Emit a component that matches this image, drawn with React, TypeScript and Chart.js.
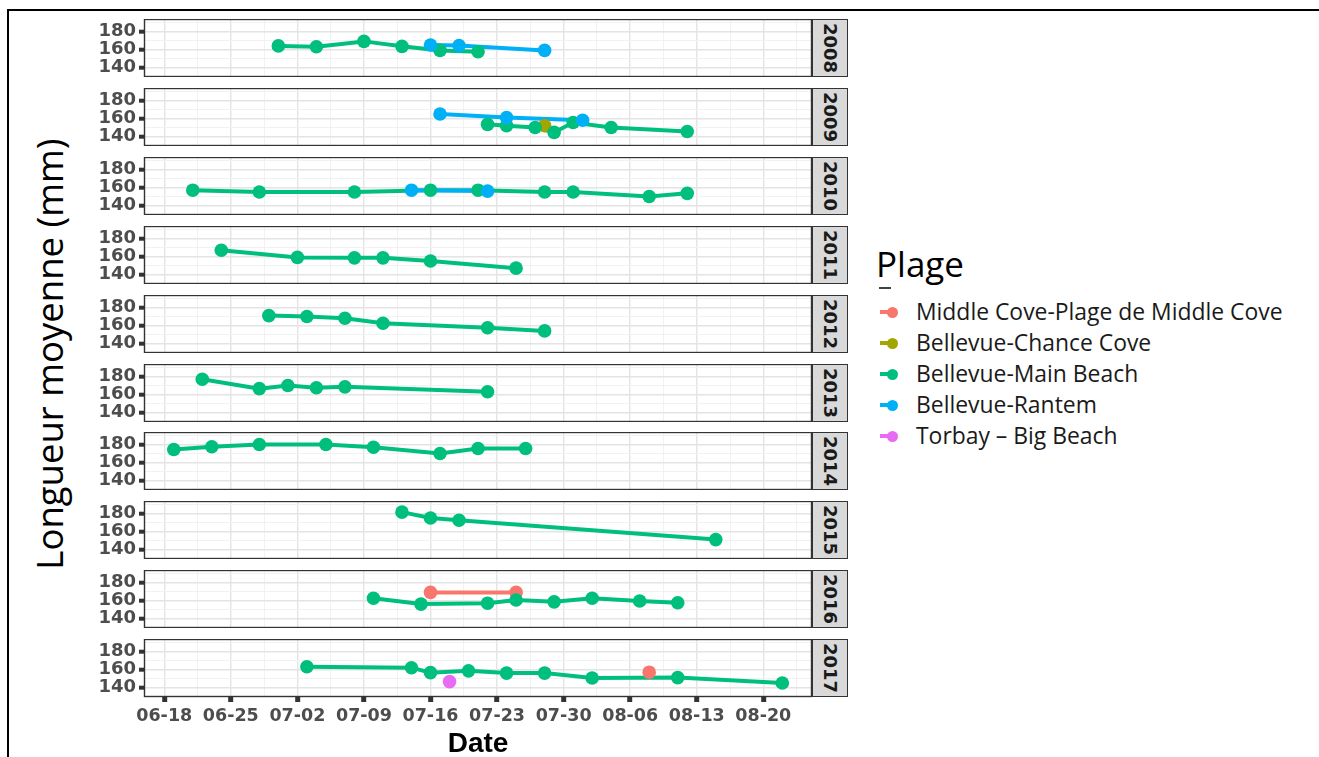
import React, { useEffect, useRef } from 'react';
import { Chart, registerables } from 'chart.js';

Chart.register(...registerables);

// ---------- data ----------
const years = ['2008', '2009', '2010', '2011', '2012', '2013', '2014', '2015', '2016', '2017'];
const beaches = [
  'Middle Cove-Plage de Middle Cove',
  'Bellevue-Chance Cove',
  'Bellevue-Main Beach',
  'Bellevue-Rantem',
  'Torbay – Big Beach',
];
const beachColors = ['#F8766D', '#A3A500', '#00BF7D', '#00B0F6', '#E76BF3'];

const xTickLabels = ['06-18', '06-25', '07-02', '07-09', '07-16', '07-23', '07-30', '08-06', '08-13', '08-20'];
const xMinorDays = [3.5, 10.5, 17.5, 24.5, 31.5, 38.5, 45.5, 52.5, 59.5, 66.5];
const yTickValues = [140, 160, 180];
const yTickLabels = ['140', '160', '180'];
const yMinorValues = [130, 150, 170, 190];

// 2008
const main2008Dates = ['06-30', '07-04', '07-09', '07-13', '07-17', '07-21'];
const main2008Len = [164, 163, 169, 163.5, 159, 157.5];
const rantem2008Dates = ['07-16', '07-19', '07-28'];
const rantem2008Len = [165, 164.5, 159];
// 2009
const rantem2009Dates = ['07-17', '07-24', '08-01'];
const rantem2009Len = [165, 161, 158];
const main2009Dates = ['07-22', '07-24', '07-27', '07-29', '07-31', '08-04', '08-12'];
const main2009Len = [153.5, 152, 150, 144.5, 155.5, 150, 145.5];
const chance2009Dates = ['07-28'];
const chance2009Len = [152];
// 2010
const main2010Dates = ['06-21', '06-28', '07-08', '07-16', '07-21', '07-28', '07-31', '08-08', '08-12'];
const main2010Len = [157, 155, 155, 157, 157, 155, 155, 150, 153.5];
const rantem2010Dates = ['07-14', '07-22'];
const rantem2010Len = [157, 156];
// 2011
const main2011Dates = ['06-24', '07-02', '07-08', '07-11', '07-16', '07-25'];
const main2011Len = [167, 159, 158.5, 158.5, 155, 147];
// 2012
const main2012Dates = ['06-29', '07-03', '07-07', '07-11', '07-22', '07-28'];
const main2012Len = [171, 170, 168, 162.5, 157.5, 154];
// 2013
const main2013Dates = ['06-22', '06-28', '07-01', '07-04', '07-07', '07-22'];
const main2013Len = [177, 166.5, 170, 167.5, 168.5, 163];
// 2014
const main2014Dates = ['06-19', '06-23', '06-28', '07-05', '07-10', '07-17', '07-21', '07-26'];
const main2014Len = [174.5, 177.5, 180, 180, 177, 170, 175.5, 175.5];
// 2015
const main2015Dates = ['07-13', '07-16', '07-19', '08-15'];
const main2015Len = [181.5, 175, 172.5, 151];
// 2016
const main2016Dates = ['07-10', '07-15', '07-22', '07-25', '07-29', '08-02', '08-07', '08-11'];
const main2016Len = [162.5, 156, 157, 160.5, 158.5, 162.5, 159.5, 157.5];
const middle2016Dates = ['07-16', '07-25'];
const middle2016Len = [169, 169];
// 2017
const main2017Dates = ['07-03', '07-14', '07-16', '07-20', '07-24', '07-28', '08-02', '08-11', '08-22'];
const main2017Len = [163, 162, 156.5, 158.5, 156, 156, 150.5, 151, 145];
const middle2017Dates = ['08-08'];
const middle2017Len = [157];
const torbay2017Dates = ['07-18'];
const torbay2017Len = [146.5];

type Series = { year: string; beach: number; dates: string[]; values: number[] };
const series: Series[] = [
  { year: '2008', beach: 2, dates: main2008Dates, values: main2008Len },
  { year: '2008', beach: 3, dates: rantem2008Dates, values: rantem2008Len },
  { year: '2009', beach: 1, dates: chance2009Dates, values: chance2009Len },
  { year: '2009', beach: 2, dates: main2009Dates, values: main2009Len },
  { year: '2009', beach: 3, dates: rantem2009Dates, values: rantem2009Len },
  { year: '2010', beach: 2, dates: main2010Dates, values: main2010Len },
  { year: '2010', beach: 3, dates: rantem2010Dates, values: rantem2010Len },
  { year: '2011', beach: 2, dates: main2011Dates, values: main2011Len },
  { year: '2012', beach: 2, dates: main2012Dates, values: main2012Len },
  { year: '2013', beach: 2, dates: main2013Dates, values: main2013Len },
  { year: '2014', beach: 2, dates: main2014Dates, values: main2014Len },
  { year: '2015', beach: 2, dates: main2015Dates, values: main2015Len },
  { year: '2016', beach: 0, dates: middle2016Dates, values: middle2016Len },
  { year: '2016', beach: 2, dates: main2016Dates, values: main2016Len },
  { year: '2017', beach: 0, dates: middle2017Dates, values: middle2017Len },
  { year: '2017', beach: 2, dates: main2017Dates, values: main2017Len },
  { year: '2017', beach: 4, dates: torbay2017Dates, values: torbay2017Len },
];

// ---------- helpers ----------
const dayOf = (md: string) => {
  const [m, d] = md.split('-').map(Number);
  return (Date.UTC(2000, m - 1, d) - Date.UTC(2000, 5, 18)) / 86400000;
};
const xMajorDays = xTickLabels.map(dayOf);

// ---------- layout ----------
const PANEL_LEFT = 88;
const CANVAS_W = 724; // ends at x=812
const Y_AXIS_W = 56; // plot starts at x=144
const PANEL_H = 58;
const panelTops = [19, 88, 157, 226, 295, 364, 432, 501, 570, 639];
const X_AXIS_H = 60;
const X_MIN = -2.13;
const X_MAX = 68.12;
const Y_MIN = 129.4;
const Y_MAX = 193.9;

const borderPlugin = {
  id: 'panelBorder',
  afterDraw(chart: any) {
    const { ctx, chartArea: a } = chart;
    ctx.save();
    ctx.strokeStyle = '#333333';
    ctx.lineWidth = 1.4;
    ctx.strokeRect(a.left + 0.5, a.top + 0.5, a.right - a.left - 1, a.bottom - a.top - 1);
    ctx.restore();
  },
};

function Panel({ yearIndex }: { yearIndex: number }) {
  const ref = useRef<HTMLCanvasElement | null>(null);
  const isBottom = yearIndex === years.length - 1;
  const year = years[yearIndex];
  const h = PANEL_H + (isBottom ? X_AXIS_H : 0);

  useEffect(() => {
    if (!ref.current) return;
    const datasets: any[] = [];
    beaches.forEach((b, bi) => {
      series
        .filter((s) => s.year === year && s.beach === bi)
        .forEach((s) => {
          const pts = s.dates
            .map((d, i) => ({ x: dayOf(d), y: s.values[i] }))
            .sort((p, q) => p.x - q.x);
          datasets.push({
            label: b + ' line',
            data: pts,
            borderColor: beachColors[bi],
            backgroundColor: beachColors[bi],
            borderWidth: 4,
            pointRadius: 0,
            showLine: true,
            tension: 0,
            order: 20 - bi,
          });
          datasets.push({
            label: b,
            data: pts,
            showLine: false,
            pointRadius: 6.8,
            pointBorderWidth: 0,
            pointBackgroundColor: beachColors[bi],
            pointBorderColor: beachColors[bi],
            order: 10 - bi,
          });
        });
    });

    const isMajorX = (v: number) => xMajorDays.some((d) => Math.abs(d - v) < 1e-6);
    const isMajorY = (v: number) => yTickValues.includes(v);

    const chart = new Chart(ref.current, {
      type: 'line',
      data: { datasets },
      plugins: [borderPlugin],
      options: {
        animation: false,
        responsive: false,
        devicePixelRatio: 1,
        events: [],
        layout: { padding: 0, autoPadding: false },
        plugins: { legend: { display: false }, tooltip: { enabled: false } },
        scales: {
          x: {
            type: 'linear',
            min: X_MIN,
            max: X_MAX,
            afterBuildTicks: (s: any) => {
              s.ticks = [...xMajorDays, ...xMinorDays].sort((a, b) => a - b).map((v) => ({ value: v }));
            },
            ticks: {
              display: isBottom,
              autoSkip: false,
              maxRotation: 0,
              minRotation: 0,
              padding: 4,
              color: '#4D4D4D',
              font: { family: 'DejaVu Sans', weight: 'bold', size: 17.5 },
              callback: (v: any) => {
                const i = xMajorDays.findIndex((d) => Math.abs(d - Number(v)) < 1e-6);
                return i >= 0 ? xTickLabels[i] : '';
              },
            },
            grid: {
              drawTicks: isBottom,
              tickLength: 5,
              tickWidth: 5,
              tickColor: (c: any) => (c.tick && isMajorX(c.tick.value) ? '#333333' : 'rgba(0,0,0,0)'),
              color: (c: any) => (c.tick && isMajorX(c.tick.value) ? '#E4E4E4' : '#F1F1F1'),
              lineWidth: (c: any) => (c.tick && isMajorX(c.tick.value) ? 1.4 : 0.9),
            },
            border: { display: false },
            title: {
              display: isBottom,
              text: 'Date',
              color: '#000000',
              font: { family: 'Liberation Sans', weight: 'bold', size: 28, lineHeight: 0.8 },
              padding: { top: 0, bottom: 1.5 },
            },
            afterFit: (s: any) => {
              s.height = isBottom ? X_AXIS_H : 0;
              s.paddingLeft = 0;
              s.paddingRight = 0;
            },
          },
          y: {
            type: 'linear',
            min: Y_MIN,
            max: Y_MAX,
            afterBuildTicks: (s: any) => {
              s.ticks = [...yTickValues, ...yMinorValues].sort((a, b) => a - b).map((v) => ({ value: v }));
            },
            ticks: {
              autoSkip: false,
              padding: 3,
              color: '#4D4D4D',
              font: { family: 'DejaVu Sans', weight: 'bold', size: 18 },
              callback: (v: any) => {
                const i = yTickValues.indexOf(Number(v));
                return i >= 0 ? yTickLabels[i] : '';
              },
            },
            grid: {
              drawTicks: true,
              tickLength: 5,
              tickWidth: 4,
              tickColor: (c: any) => (c.tick && isMajorY(c.tick.value) ? '#333333' : 'rgba(0,0,0,0)'),
              color: (c: any) => (c.tick && isMajorY(c.tick.value) ? '#E4E4E4' : '#F1F1F1'),
              lineWidth: (c: any) => (c.tick && isMajorY(c.tick.value) ? 1.4 : 0.9),
            },
            border: { display: false },
            afterFit: (s: any) => {
              s.width = Y_AXIS_W;
              s.paddingTop = 0;
              s.paddingBottom = 0;
            },
          },
        },
      } as any,
    });
    return () => chart.destroy();
  }, [yearIndex]);

  return (
    <>
      <canvas
        ref={ref}
        width={CANVAS_W}
        height={h}
        style={{ position: 'absolute', left: PANEL_LEFT, top: panelTops[yearIndex], width: CANVAS_W, height: h }}
      />
      <div
        style={{
          position: 'absolute',
          left: PANEL_LEFT + CANVAS_W,
          top: panelTops[yearIndex],
          width: 36,
          height: PANEL_H,
          boxSizing: 'border-box',
          border: '1.4px solid #333333',
          background: '#D9D9D9',
          display: 'flex',
          alignItems: 'center',
          justifyContent: 'center',
        }}
      >
        <span
          style={{
            writingMode: 'vertical-rl',
            fontFamily: '"DejaVu Sans"',
            fontWeight: 'bold',
            fontSize: 18,
            color: '#1A1A1A',
            lineHeight: 1,
          }}
        >
          {year}
        </span>
      </div>
    </>
  );
}

export default function App() {
  return (
    <div
      style={{
        position: 'fixed',
        left: 0,
        top: 0,
        width: 1319,
        height: 757,
        background: '#ffffff',
        overflow: 'hidden',
      }}
    >
      {/* frame lines */}
      <div style={{ position: 'absolute', left: 7, top: 9, width: 1312, height: 2, background: '#000' }} />
      <div style={{ position: 'absolute', left: 7, top: 9, width: 2, height: 748, background: '#000' }} />

      {/* y axis title */}
      <div
        style={{
          position: 'absolute',
          left: 49,
          top: 354,
          transform: 'translate(-50%, -50%) rotate(-90deg)',
          whiteSpace: 'nowrap',
          fontFamily: '"Open Sans"',
          fontSize: 36.5,
          lineHeight: 1,
          color: '#000',
        }}
      >
        Longueur moyenne (mm)
      </div>

      {years.map((y, i) => (
        <Panel key={y} yearIndex={i} />
      ))}

      {/* legend */}
      <div
        style={{
          position: 'absolute',
          left: 876,
          top: 244,
          fontFamily: '"Open Sans"',
          fontSize: 35,
          lineHeight: '40px',
          color: '#000',
          whiteSpace: 'nowrap',
        }}
      >
        Plage
      </div>
      <div style={{ position: 'absolute', left: 879, top: 287, width: 12, height: 1.5, background: '#444' }} />
      {beaches.map((b, i) => {
        const top = 296 + i * 31;
        return (
          <React.Fragment key={b}>
            <div
              style={{
                position: 'absolute',
                left: 880,
                top: top + 16 - 2,
                width: 17,
                height: 4,
                background: beachColors[i],
              }}
            />
            <div
              style={{
                position: 'absolute',
                left: 892 - 5.5,
                top: top + 16 - 5.5,
                width: 11,
                height: 11,
                borderRadius: '50%',
                background: beachColors[i],
              }}
            />
            <div
              style={{
                position: 'absolute',
                left: 916,
                top,
                fontFamily: '"Open Sans"',
                fontSize: 22.9,
                lineHeight: '31px',
                color: '#1A1A1A',
                whiteSpace: 'nowrap',
              }}
            >
              {b}
            </div>
          </React.Fragment>
        );
      })}
    </div>
  );
}
